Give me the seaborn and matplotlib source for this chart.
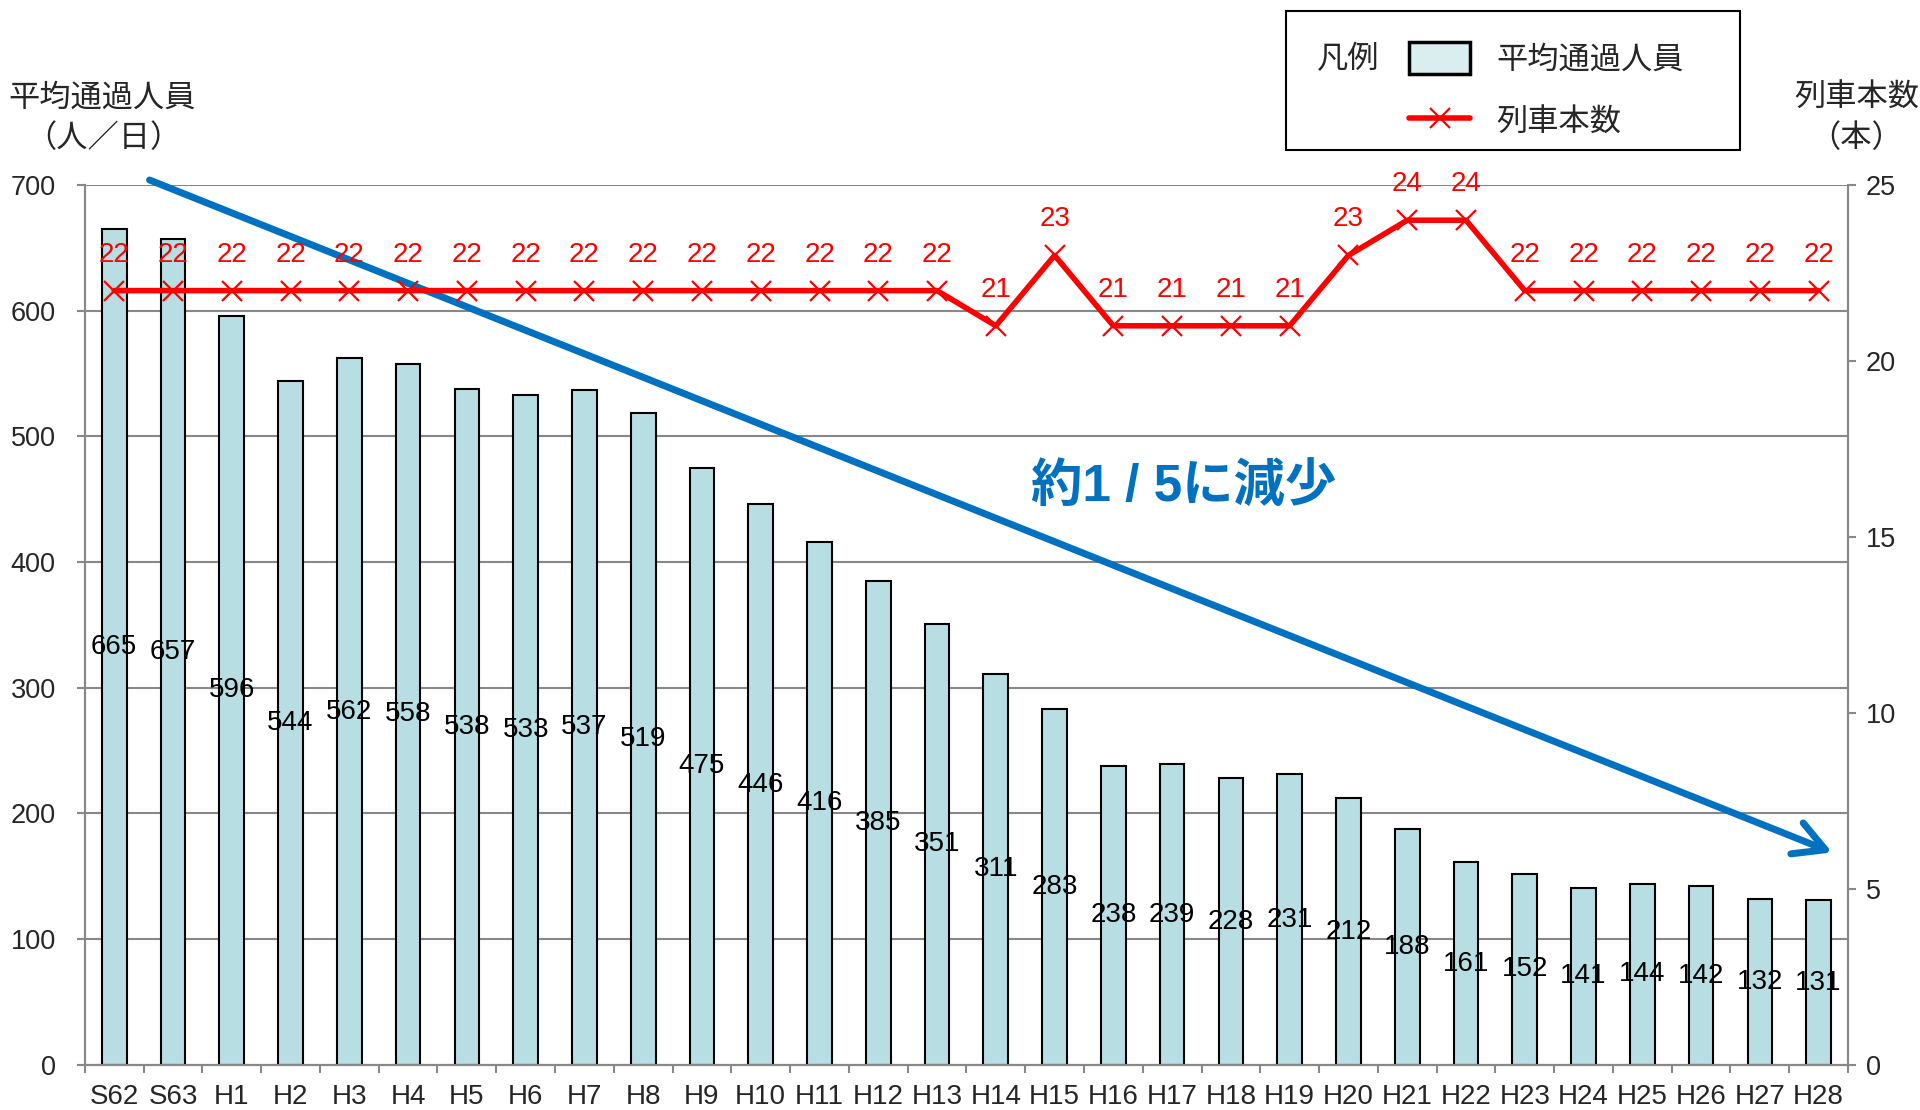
import numpy as np
import matplotlib
matplotlib.use("Agg")
import matplotlib.pyplot as plt
from matplotlib.patches import Patch, Rectangle
from matplotlib.lines import Line2D
import seaborn as sns

# data
years = ["S62", "S63", "H1", "H2", "H3", "H4", "H5", "H6", "H7", "H8",
         "H9", "H10", "H11", "H12", "H13", "H14", "H15", "H16", "H17", "H18",
         "H19", "H20", "H21", "H22", "H23", "H24", "H25", "H26", "H27", "H28"]
passengers = [665, 657, 596, 544, 562, 558, 538, 533, 537, 519,
              475, 446, 416, 385, 351, 311, 283, 238, 239, 228,
              231, 212, 188, 161, 152, 141, 144, 142, 132, 131]
trains = [22, 22, 22, 22, 22, 22, 22, 22, 22, 22,
          22, 22, 22, 22, 22, 21, 23, 21, 21, 21,
          21, 23, 24, 24, 22, 22, 22, 22, 22, 22]

BAR_COLOR = '#B7DEE3'
LEGEND_PATCH = '#DAEDEF'
LINE_COLOR = '#FF0000'
ARROW_COLOR = '#0070C0'
GRID_COLOR = '#888888'

sns.set_theme(style='white')
plt.rcParams['font.family'] = ['Liberation Sans', 'Noto Sans CJK JP', 'DejaVu Sans']

fig, ax = plt.subplots(figsize=(19.2, 11.1), dpi=100)
fig.subplots_adjust(left=0.0442, right=0.9625, bottom=0.0407, top=0.8333)

sns.barplot(x=years, y=passengers, color=BAR_COLOR, saturation=1, width=0.42,
            edgecolor='black', linewidth=1.5, ax=ax, zorder=2)
ax.bar_label(ax.containers[0], labels=[str(v) for v in passengers],
             label_type='center', fontsize=20, color='black')

ax.set_xlim(-0.5, len(years) - 0.5)
ax.set_ylim(0, 700)
ax.set_yticks(range(0, 701, 100))
ax.set_xlabel('')
ax.set_ylabel('')
ax.yaxis.grid(True, color=GRID_COLOR, linewidth=1.5, zorder=0)
ax.set_axisbelow(True)
ax.set_xticks(np.arange(-0.5, len(years), 1), minor=True)
ax.tick_params(axis='x', which='major', length=0, pad=14, labelsize=20)
ax.tick_params(axis='x', which='minor', length=6, width=1.5, color=GRID_COLOR,
               direction='out', bottom=True)
ax.tick_params(axis='y', length=6, width=1.5, color=GRID_COLOR, direction='out',
               left=True, pad=15, labelsize=19.5)
for side in ['left', 'right', 'bottom']:
    ax.spines[side].set_color(GRID_COLOR)
    ax.spines[side].set_linewidth(1.5)
ax.spines['top'].set_visible(False)

# trend arrow
ax.annotate('', xy=(29.23, 169), xytext=(0.6, 704), annotation_clip=False,
            arrowprops=dict(arrowstyle='->,head_length=1.1,head_width=0.6',
                            color=ARROW_COLOR, lw=5, mutation_scale=20,
                            capstyle='round', joinstyle='round',
                            shrinkA=0, shrinkB=0), zorder=5)
ax.text(18.2, 459, '約1 / 5に減少', color=ARROW_COLOR, fontsize=37,
        fontweight='bold', ha='center', va='center', zorder=6)

# train count on the right axis
ax2 = ax.twinx()
idx = np.arange(len(years))
sns.lineplot(x=idx, y=trains, color=LINE_COLOR, linewidth=4, marker='x',
             markersize=15, markeredgewidth=1.6, markeredgecolor=LINE_COLOR,
             ax=ax2, zorder=4)
for i, v in enumerate(trains):
    ax2.annotate(str(v), (i, v), xytext=(0, 26), textcoords='offset points',
                 ha='center', va='center', color=LINE_COLOR, fontsize=20)
ax2.set_ylim(0, 25)
ax2.set_yticks(range(0, 26, 5))
ax2.set_ylabel('')
ax2.grid(False)
ax2.tick_params(axis='y', length=6, width=1.5, color=GRID_COLOR, direction='out',
                right=True, pad=7, labelsize=19.5)
for side in ['left', 'right', 'bottom']:
    ax2.spines[side].set_color(GRID_COLOR)
    ax2.spines[side].set_linewidth(1.5)
ax2.spines['top'].set_visible(False)

# axis titles
fig.text(0.053, 0.911, '平均通過人員', ha='center', va='center', fontsize=22.5)
fig.text(0.054, 0.875, '（人／日）', ha='center', va='center', fontsize=22.5)
fig.text(0.967, 0.911, '列車本数', ha='center', va='center', fontsize=22.5)
fig.text(0.967, 0.875, '（本）', ha='center', va='center', fontsize=22.5)

# legend box
handles = [Patch(facecolor=LEGEND_PATCH, edgecolor='black', linewidth=2.5),
           Line2D([], [], color=LINE_COLOR, linewidth=4, marker='x',
                  markersize=15, markeredgewidth=1.6)]
fig.legend(handles, ['平均通過人員', '列車本数'], loc='upper left',
           bbox_to_anchor=(0.734, 0.9625), frameon=False, borderpad=0,
           borderaxespad=0, fontsize=22.5, handlelength=1.95, handleheight=1.2,
           handletextpad=0.85, labelspacing=0.95)
fig.patches.append(Rectangle((0.670, 0.865), 0.236, 0.125, transform=fig.transFigure,
                             fill=False, edgecolor='black', linewidth=1.5))
fig.text(0.686, 0.946, '凡例', ha='left', va='center', fontsize=22.5)

fig.savefig('out.png', dpi=100)
